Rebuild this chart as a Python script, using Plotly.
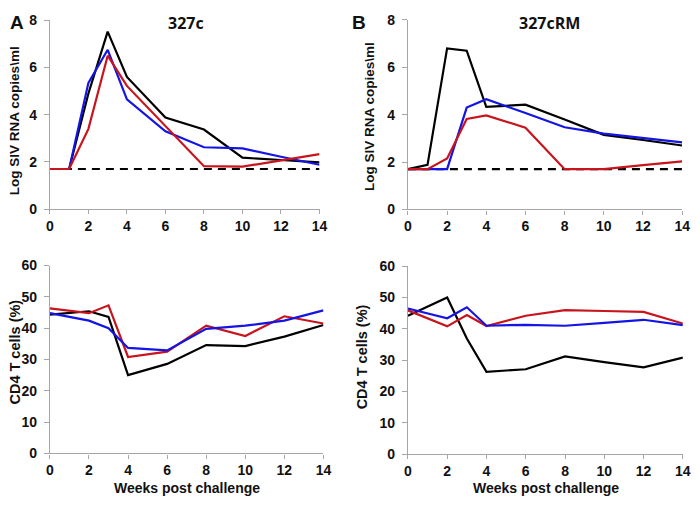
import plotly.graph_objects as go

# ---- data ----
weeks_vl = [0, 1, 2, 3, 4, 6, 8, 10, 12, 14]
weeks_cd4 = [0, 2, 3, 4, 6, 8, 10, 12, 14]
detection_limit = 1.7

vl_327c_black = [1.7, 1.7, 4.9, 7.52, 5.6, 3.88, 3.37, 2.18, 2.08, 1.98]
vl_327c_blue = [1.7, 1.7, 5.35, 6.75, 4.65, 3.3, 2.62, 2.57, 2.22, 1.88]
vl_327c_red = [1.7, 1.7, 3.4, 6.5, 5.22, 3.5, 1.82, 1.8, 2.07, 2.33]

vl_327crm_black = [1.7, 1.88, 6.8, 6.7, 4.33, 4.42, 3.8, 3.15, 2.93, 2.7]
vl_327crm_blue = [1.7, 1.7, 1.7, 4.3, 4.65, 4.07, 3.47, 3.2, 3.02, 2.83]
vl_327crm_red = [1.7, 1.7, 2.15, 3.82, 3.97, 3.45, 1.7, 1.7, 1.87, 2.03]

cd4_327c_black = [44.3, 45.4, 43.6, 25.0, 28.6, 34.6, 34.3, 37.3, 41.0]
cd4_327c_red = [46.3, 44.8, 47.3, 30.8, 32.5, 40.8, 37.5, 43.8, 41.5]
cd4_327c_blue = [44.8, 42.4, 40.0, 33.7, 32.9, 39.8, 40.8, 42.4, 45.7]

cd4_327crm_black = [44.2, 50.0, 36.9, 26.3, 27.1, 31.2, 29.4, 27.7, 30.8]
cd4_327crm_red = [45.9, 40.8, 44.4, 40.9, 44.2, 46.0, 45.7, 45.4, 41.7]
cd4_327crm_blue = [46.5, 43.4, 46.9, 41.0, 41.3, 41.0, 41.9, 42.9, 41.2]

x_ticks = [0, 2, 4, 6, 8, 10, 12, 14]
vl_ticks = [0, 2, 4, 6, 8]
cd4_ticks = [0, 10, 20, 30, 40, 50, 60]

BLACK = "#000000"
BLUE = "#1414e4"
RED = "#c8141c"
GRAY = "#a6a6a6"
FONT = "Liberation Sans, Arial, sans-serif"

fig = go.Figure()

def add_line(x, y, color, xa, ya, dash="solid"):
    fig.add_trace(go.Scatter(x=x, y=y, mode="lines", xaxis=xa, yaxis=ya,
                             line=dict(color=color, width=2.2, dash=dash),
                             showlegend=False, hoverinfo="skip"))

# top left
add_line([weeks_vl[0], weeks_vl[-1]], [detection_limit, detection_limit], BLACK, "x", "y", dash="8px,6px")
add_line(weeks_vl, vl_327c_black, BLACK, "x", "y")
add_line(weeks_vl, vl_327c_blue, BLUE, "x", "y")
add_line(weeks_vl, vl_327c_red, RED, "x", "y")
# top right
add_line([weeks_vl[0], weeks_vl[-1]], [detection_limit, detection_limit], BLACK, "x2", "y2", dash="8px,6px")
add_line(weeks_vl, vl_327crm_black, BLACK, "x2", "y2")
add_line(weeks_vl, vl_327crm_blue, BLUE, "x2", "y2")
add_line(weeks_vl, vl_327crm_red, RED, "x2", "y2")
# bottom left
add_line(weeks_cd4, cd4_327c_black, BLACK, "x3", "y3")
add_line(weeks_cd4, cd4_327c_red, RED, "x3", "y3")
add_line(weeks_cd4, cd4_327c_blue, BLUE, "x3", "y3")
# bottom right
add_line(weeks_cd4, cd4_327crm_black, BLACK, "x4", "y4")
add_line(weeks_cd4, cd4_327crm_red, RED, "x4", "y4")
add_line(weeks_cd4, cd4_327crm_blue, BLUE, "x4", "y4")

tickfont = dict(family=FONT, size=14, color="#111111")

def bold(vals):
    return [f"<b>{v}</b>" for v in vals]

def xaxis(domain, anchor):
    return dict(domain=domain, anchor=anchor, range=[0, 14], tickvals=x_ticks,
                ticktext=bold(x_ticks),
                showgrid=False, zeroline=False, showline=True, linecolor=GRAY,
                linewidth=1.2, ticks="outside", ticklen=4, tickcolor=GRAY,
                tickfont=tickfont)

def yaxis(domain, anchor, rng, ticks):
    return dict(domain=domain, anchor=anchor, range=rng, tickvals=ticks,
                ticktext=bold(ticks),
                showgrid=False, zeroline=False, showline=True, linecolor=GRAY,
                linewidth=1.2, ticks="outside", ticklen=5, tickcolor=GRAY,
                tickfont=tickfont, ticklabelstandoff=4)

fig.update_layout(
    width=700, height=505,
    margin=dict(l=0, r=0, t=0, b=0),
    paper_bgcolor="white", plot_bgcolor="white",
    font=dict(family=FONT, color="#111111"),
    xaxis=xaxis([0.0667, 0.4586], "y"),
    yaxis=yaxis([0.5887, 0.9749], "x", [0, 8], vl_ticks),
    xaxis2=xaxis([0.5871, 0.9857], "y2"),
    yaxis2=yaxis([0.5881, 0.9756], "x2", [0, 8], vl_ticks),
    xaxis3=xaxis([0.0667, 0.4643], "y3"),
    yaxis3=yaxis([0.0891, 0.4733], "x3", [0, 60], cd4_ticks),
    xaxis4=xaxis([0.5871, 0.9867], "y4"),
    yaxis4=yaxis([0.0877, 0.4719], "x4", [0, 60], cd4_ticks),
)

def ann(text, x, y, size, angle=0, family=FONT):
    fig.add_annotation(text=f"<b>{text}</b>", x=x, y=y, xref="paper", yref="paper",
                       xanchor="center", yanchor="middle", showarrow=False,
                       textangle=angle, font=dict(family=family, size=size, color="#111111"))

H = 505.0
W = 700.0
ann("A", 13 / W, 1 - 15 / H, 19)
ann("B", 361 / W, 1 - 15 / H, 19)
ann("327c", 185 / W, 1 - 16 / H, 16, family="Open Sans, sans-serif")
ann("327cRM", 555 / W, 1 - 16 / H, 16, family="Open Sans, sans-serif")
ann("Log SIV RNA copies\\ml", 11 / W, 1 - 116 / H, 13.5, angle=-90)
ann("Log SIV RNA copies\\ml", 372 / W, 1 - 112 / H, 13.5, angle=-90)
ann("CD4 T cells (%)", 11 / W, 1 - 355 / H, 14.5, angle=-90)
ann("CD4 T cells (%)", 364 / W, 1 - 360 / H, 14.5, angle=-90)
ann("Weeks post challenge", 186 / W, 1 - 496 / H, 14)
ann("Weeks post challenge", 551 / W, 1 - 496 / H, 14)

fig.write_html("out.html", post_script="document.body.style.margin='0';",
               config={"displayModeBar": False})
